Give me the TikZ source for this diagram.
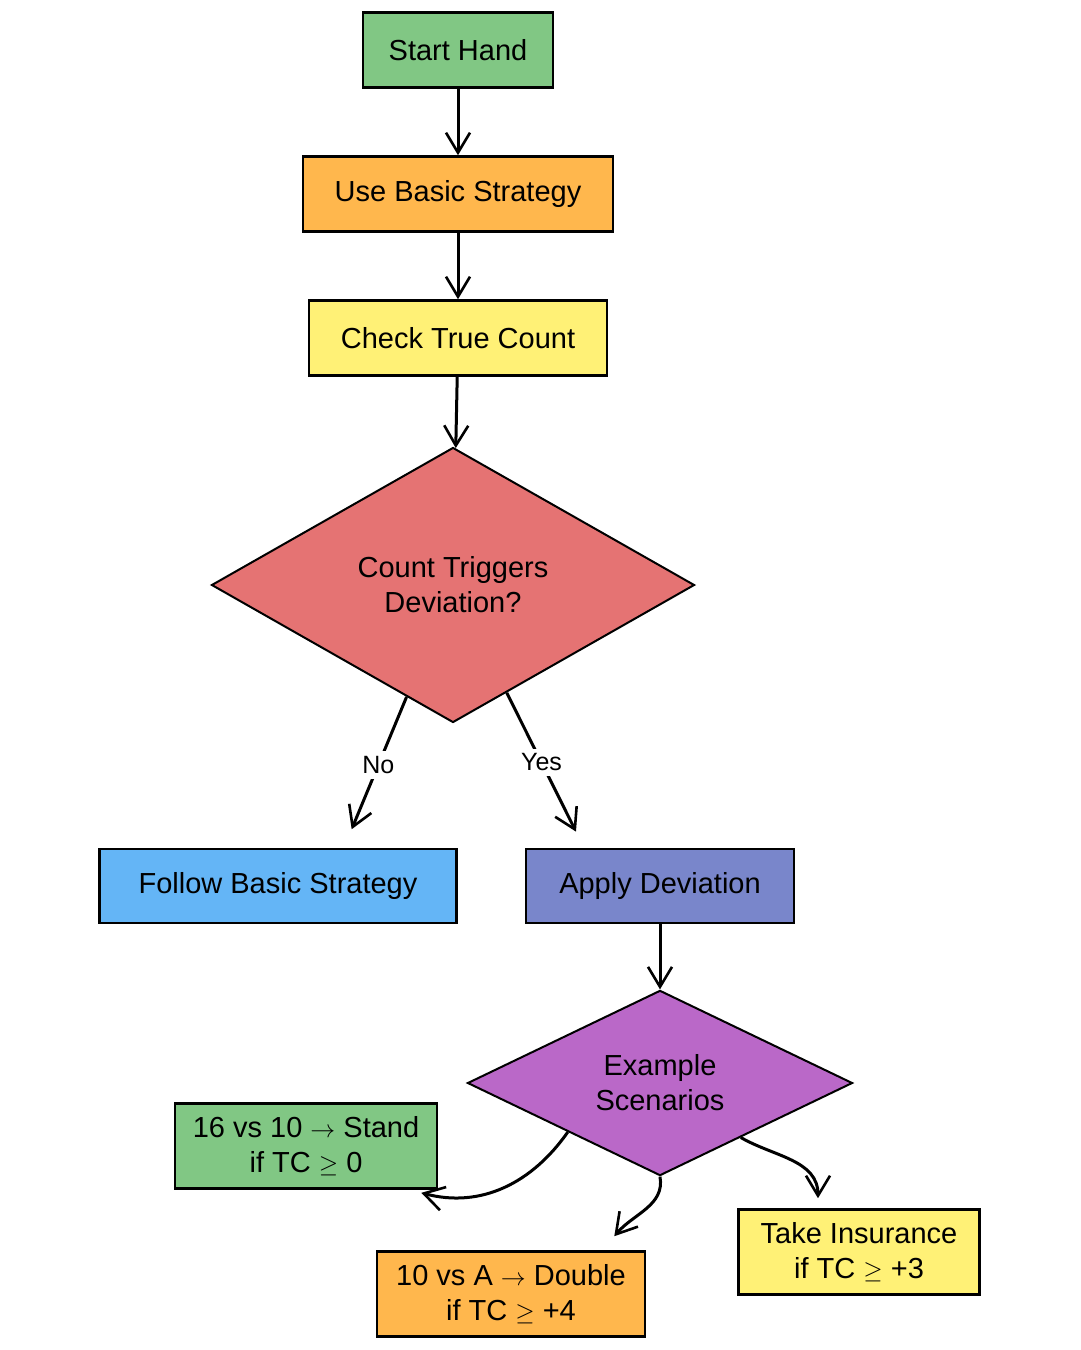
\documentclass[tikz,border=0pt]{standalone}
\usepackage{fontspec}
\setmainfont{Liberation Sans}
\usepackage{tikz}
\usetikzlibrary{shapes.geometric,arrows.meta}

\definecolor{boxgreen}{HTML}{81C784}
\definecolor{boxorange}{HTML}{FFB74D}
\definecolor{boxyellow}{HTML}{FFF176}
\definecolor{boxred}{HTML}{E57373}
\definecolor{boxblue}{HTML}{64B5F6}
\definecolor{boxindigo}{HTML}{7986CB}
\definecolor{boxpurple}{HTML}{BA68C8}

\tikzset{
    stepbox/.style={draw=black, line width=2.6pt, rectangle, align=center, inner sep=0pt,
        font=\fontsize{29}{35}\selectfont},
    decision/.style={draw=black, line width=2pt, diamond, align=center, inner sep=0pt,
        font=\fontsize{29}{35}\selectfont},
    flow/.style={line width=3pt, -{Straight Barb[length=20pt,width=24pt,line width=2.6pt]}},
    answer/.style={fill=white, inner sep=5pt, font=\fontsize{25}{30}\selectfont}
}

\begin{document}
\begin{tikzpicture}[x=1pt, y=-1pt]
                \useasboundingbox (0,0) rectangle (1080,1350);

                \node[stepbox, fill=boxgreen, minimum width=190pt, minimum height=75pt] (start) at (458,50) {Start Hand};
                \node[stepbox, fill=boxorange, minimum width=310pt, minimum height=75pt] (basic) at (458,194) {Use Basic Strategy};
                \node[stepbox, fill=boxyellow, minimum width=298pt, minimum height=75pt] (check) at (458,338) {Check True Count};
                \node[decision, fill=boxred, minimum width=483pt, minimum height=275pt] (dev) at (453,585) {Count Triggers\\Deviation?};

                \node[stepbox, fill=boxblue, minimum width=357pt, minimum height=74pt] (follow) at (278,886) {Follow Basic Strategy};
                \node[stepbox, fill=boxindigo, minimum width=268pt, minimum height=74pt] (apply) at (660,886) {Apply Deviation};
                \node[decision, fill=boxpurple, minimum width=385pt, minimum height=175pt] (ex) at (660,1083) {Example\\Scenarios};

                \node[stepbox, fill=boxgreen, minimum width=262pt, minimum height=85pt] (stand) at (306,1146) {16 vs 10 $\rightarrow$ Stand\\if TC $\geq$ 0};
                \node[stepbox, fill=boxorange, minimum width=268pt, minimum height=85pt] (double) at (511,1294) {10 vs A $\rightarrow$ Double\\if TC $\geq$ +4};
                \node[stepbox, fill=boxyellow, minimum width=241pt, minimum height=85pt] (insure) at (859,1252) {Take Insurance\\if TC $\geq$ +3};

                \draw[flow] (start) -- (basic);
                \draw[flow] (basic) -- (check);
                \draw[flow] (check) -- (dev);
                \draw[flow, shorten >=20pt] (dev) -- node[answer, pos=0.45]{No} ([xshift=66pt]follow.north);
                \draw[flow, shorten >=18pt] (dev) -- node[answer, pos=0.45]{Yes} ([xshift=-76pt]apply.north);
                \draw[flow] (apply) -- (ex);

                \draw[flow] (ex.208) to[out=235, in=-15] ([shift={(-17,3)}]stand.south east);
                \draw[flow] (ex.south) to[out=-80, in=50] ([shift={(-32,-14)}]double.north east);
                \draw[flow] (ex.-34) to[out=-30, in=90] ([shift={(-41,-10)}]insure.north);
\end{tikzpicture}
\end{document}
